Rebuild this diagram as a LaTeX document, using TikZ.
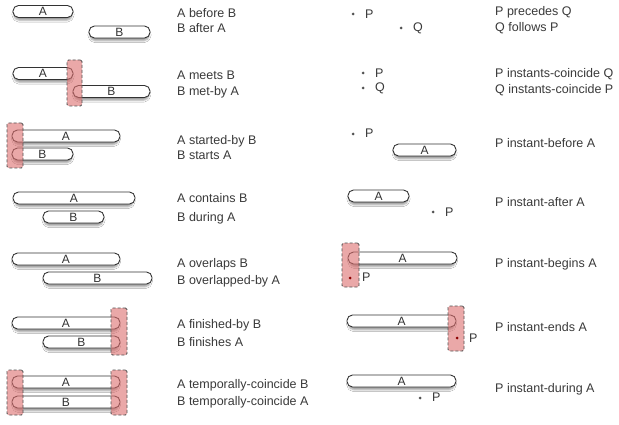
\documentclass[tikz,border=0pt]{standalone}
\usepackage{fontspec}
\setmainfont{Liberation Sans}
\usetikzlibrary{shadows.blur}

\definecolor{ink}{HTML}{333333}
\definecolor{txt}{HTML}{3A3A3A}
\definecolor{hl}{HTML}{DC6E6E}

\tikzset{
  ivl/.style={draw=ink, line width=0.9pt, fill=white, rounded corners=5.5pt,
    minimum height=12pt, inner sep=0pt, text=ink,
    font=\fontsize{12}{12}\selectfont,
    blur shadow={shadow xshift=0pt, shadow yshift=-3pt, shadow scale=0.97,
      shadow blur radius=2pt, shadow opacity=40}},
  rel/.style={anchor=base west, inner sep=0pt, text=txt,
    font=\fontsize{12.5}{15}\selectfont},
  inst/.style={circle, fill=ink!85, inner sep=0pt, minimum size=3pt},
  redinst/.style={circle, fill=red!55!black, inner sep=0pt, minimum size=3pt},
  instlab/.style={anchor=west, inner sep=0pt, text=txt,
    font=\fontsize{12.5}{15}\selectfont},
  zone/.style={draw=ink!85, dash pattern=on 3pt off 2pt, line width=0.8pt,
    fill=hl, fill opacity=0.6, rounded corners=1.5pt, inner sep=0pt}
}

% interval bar: name, left x, right x, centre y, label
\newcommand\ivbar[5]{\node[ivl, minimum width={(#3-#2)*1pt}] (#1) at ({(#2+#3)/2},#4) {#5};}
% highlighted zone: name, x1, x2, y1, y2
\newcommand\ivzone[5]{\node[zone, minimum width={(#3-#2)*1pt}, minimum height={(#5-#4)*1pt}] (#1) at ({(#2+#3)/2},{(#4+#5)/2}) {};}

\begin{document}
\begin{tikzpicture}[x=1pt, y=-1pt]
\useasboundingbox[fill=white] (0,0) rectangle (619,425);

% ---------------- interval / interval relations ----------------
\ivbar{a1}{13}{73}{11.5}{A}
\ivbar{b1}{89}{150}{32}{B}
\node[rel] (t1a) at (177,18) {A before B};
\node[rel] (t1b) at (177,33) {B after A};

\ivbar{a2}{13}{73}{73.5}{A}
\ivbar{b2}{73}{150}{91.5}{B}
\ivzone{z2}{67}{82}{60}{106}
\node[rel] (t2a) at (177,80) {A meets B};
\node[rel] (t2b) at (177,96) {B met-by A};

\ivbar{a3}{12}{120}{136}{A}
\ivbar{b3}{12}{73}{154}{B}
\ivzone{z3}{7}{23}{123}{168}
\node[rel] (t3a) at (177,145) {A started-by B};
\node[rel] (t3b) at (177,160) {B starts A};

\ivbar{a4}{13}{135}{198}{A}
\ivbar{b4}{43}{104}{217}{B}
\node[rel] (t4a) at (177,203) {A contains B};
\node[rel] (t4b) at (177,222) {B during A};

\ivbar{a5}{12}{120}{259}{A}
\ivbar{b5}{43}{152}{278}{B}
\node[rel] (t5a) at (177,267) {A overlaps B};
\node[rel] (t5b) at (177,284) {B overlapped-by A};

\ivbar{a6}{12}{120}{323}{A}
\ivbar{b6}{43}{120}{342}{B}
\ivzone{z6}{111}{127}{308}{355}
\node[rel] (t6a) at (177,328) {A finished-by B};
\node[rel] (t6b) at (177,346) {B finishes A};

\ivbar{a7}{12}{120}{382}{A}
\ivbar{b7}{12}{120}{402}{B}
\ivzone{z7l}{7}{23}{370}{415}
\ivzone{z7r}{111}{127}{370}{415}
\node[rel] (t7a) at (177,388) {A temporally-coincide B};
\node[rel] (t7b) at (177,405) {B temporally-coincide A};

% ---------------- instant relations ----------------
\node[inst] (p1) at (353,14) {};
\node[instlab] (p1l) at (365,14) {P};
\node[inst] (q1) at (401,28) {};
\node[instlab] (q1l) at (413,28) {Q};
\node[rel] (u1a) at (495,16) {P precedes Q};
\node[rel] (u1b) at (495,32) {Q follows P};

\node[inst] (p2) at (363,73) {};
\node[instlab] (p2l) at (375,73) {P};
\node[inst] (q2) at (363,88) {};
\node[instlab] (q2l) at (375,88) {Q};
\node[rel] (u2a) at (495,78) {P instants-coincide Q};
\node[rel] (u2b) at (495,94) {Q instants-coincide P};

\node[inst] (p3) at (353,134) {};
\node[instlab] (p3l) at (365,133) {P};
\ivbar{a8}{393}{456}{150}{A}
\node[rel] (u3) at (495,148) {P instant-before A};

\ivbar{a9}{348}{409}{196}{A}
\node[inst] (p4) at (433,212) {};
\node[instlab] (p4l) at (445,212) {P};
\node[rel] (u4) at (495,207) {P instant-after A};

\ivbar{a10}{348}{457}{258}{A}
\ivzone{z10}{342}{359}{243}{287}
\node[redinst] (p5) at (350,278) {};
\node[instlab] (p5l) at (362,277) {P};
\node[rel] (u5) at (495,267) {P instant-begins A};

\ivbar{a11}{347}{456}{321}{A}
\ivzone{z11}{448}{464}{306}{351}
\node[redinst] (p6) at (457,338) {};
\node[instlab] (p6l) at (469,338) {P};
\node[rel] (u6) at (495,331) {P instant-ends A};

\ivbar{a12}{347}{456}{381}{A}
\node[inst] (p7) at (420,398) {};
\node[instlab] (p7l) at (432,397) {P};
\node[rel] (u7) at (495,392) {P instant-during A};
\end{tikzpicture}
\end{document}
